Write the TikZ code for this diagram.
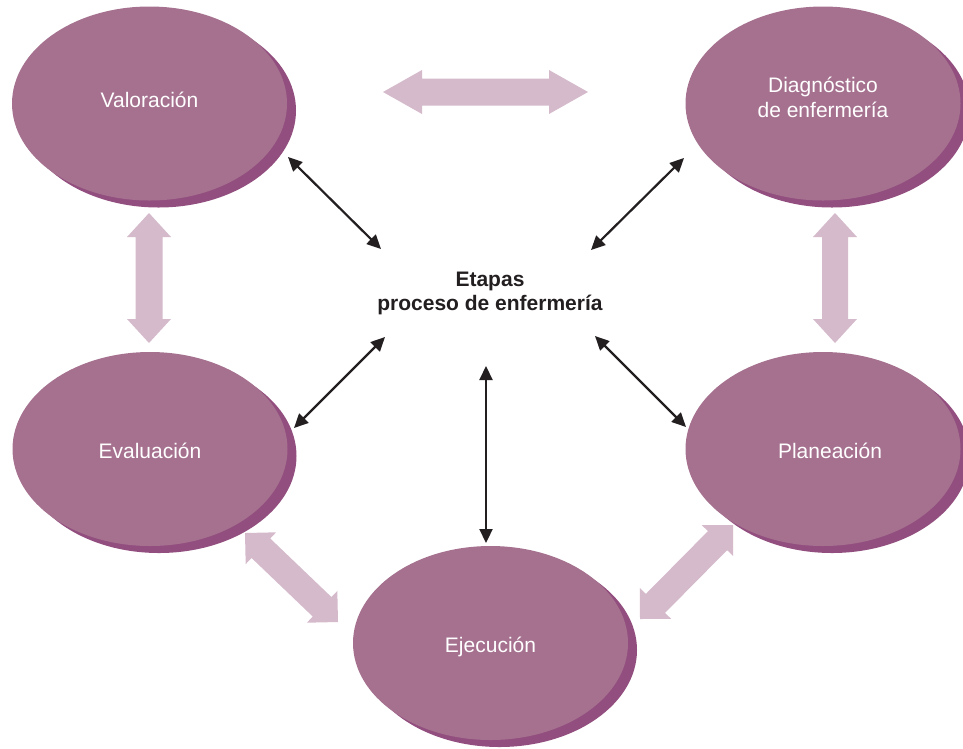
\documentclass[tikz,border=0pt]{standalone}
\usepackage{fontspec}
\setmainfont{Liberation Sans}
\usetikzlibrary{calc,shapes.geometric,arrows.meta,shadows}
\definecolor{mauve}{HTML}{A5718F}
\definecolor{mauvedark}{HTML}{924E7E}
\definecolor{pinklight}{HTML}{D4BACB}
\definecolor{inkblack}{HTML}{231F20}
\newcommand\fatarr[5]{%
  \path ($(#1)!#3!(#2)$) coordinate (fa-p) ($(#2)!#3!(#1)$) coordinate (fa-q);
  \fill[pinklight] (#1) -- ($(fa-p)!#4!90:(#1)$) -- ($(fa-p)!#5!90:(#1)$)
    -- ($(fa-q)!#5!-90:(#2)$) -- ($(fa-q)!#4!-90:(#2)$) -- (#2)
    -- ($(fa-q)!#4!90:(#2)$) -- ($(fa-q)!#5!90:(#2)$)
    -- ($(fa-p)!#5!-90:(#1)$) -- ($(fa-p)!#4!-90:(#1)$) -- cycle;}
\tikzset{
  stage/.style={ellipse, fill=mauve, inner sep=0pt, minimum width=275pt,
    minimum height=194pt,
    general shadow={shadow xshift=9pt, shadow yshift=-7pt, fill=mauvedark}},
  stagetext/.style={text=white, align=center, inner sep=0pt,
    font=\fontsize{21}{25}\selectfont},
  thinarrow/.style={draw=inkblack, line width=2.2pt,
    {Triangle[length=14pt,width=13pt]}-{Triangle[length=14pt,width=13pt]}},
  centre/.style={align=center, text=inkblack, inner sep=0pt,
    font=\fontsize{21}{24}\selectfont\bfseries}
}
\begin{document}
\begin{tikzpicture}[x=1pt,y=-1pt]
\useasboundingbox (0,0) rectangle (963,748);
% stages
\node[stage, label={[stagetext, yshift=4pt]center:Valoración}] (val) at (149.5,103.5) {};
\node[stage, label={[stagetext, yshift=6pt]center:Diagnóstico\\de enfermería}] (diag) at (823,103.5) {};
\node[stage, label={[stagetext, yshift=-2pt]center:Evaluación}] (eval) at (150,449) {};
\node[stage, label={[stagetext, yshift=-2pt, xshift=7pt]center:Planeación}] (plan) at (823,449) {};
\node[stage, label={[stagetext, yshift=-4pt]center:Ejecución}] (ejec) at (490.5,643) {};
\node[centre] (ctr) at (490,293) {Etapas\\proceso de enfermería};
% fat arrows between neighbouring stages
\coordinate (f1a) at (383,92);  \coordinate (f1b) at (588,92);
\coordinate (f2a) at (149,213); \coordinate (f2b) at (149,343);
\coordinate (f3a) at (835,213); \coordinate (f3b) at (835,343);
\coordinate (f4a) at (245,533); \coordinate (f4b) at (338,622);
\coordinate (f5a) at (733,525); \coordinate (f5b) at (640,619);
\fatarr{f1a}{f1b}{39pt}{22pt}{13.5pt}
\fatarr{f2a}{f2b}{24pt}{22pt}{13.5pt}
\fatarr{f3a}{f3b}{24pt}{22pt}{13pt}
\fatarr{f4a}{f4b}{22pt}{22pt}{13.5pt}
\fatarr{f5a}{f5b}{22pt}{22pt}{13.5pt}
% thin arrows from the centre to each stage
\coordinate (t1a) at (288,157); \coordinate (t1b) at (381,249);
\coordinate (t2a) at (684,158); \coordinate (t2b) at (591,250);
\coordinate (t3a) at (385,337); \coordinate (t3b) at (294,428);
\coordinate (t4a) at (595,336); \coordinate (t4b) at (686,427);
\coordinate (t5a) at (486,366); \coordinate (t5b) at (486,543);
\draw[thinarrow] (t1a) -- (t1b);
\draw[thinarrow] (t2a) -- (t2b);
\draw[thinarrow] (t3a) -- (t3b);
\draw[thinarrow] (t4a) -- (t4b);
\draw[thinarrow] (t5a) -- (t5b);
\end{tikzpicture}
\end{document}
